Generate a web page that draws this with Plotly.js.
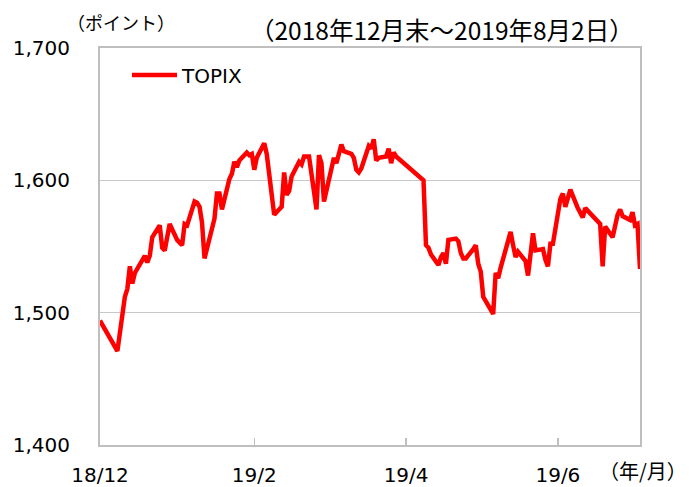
<!DOCTYPE html>
<html>
<head>
<meta charset="utf-8">
<script src="https://cdn.plot.ly/plotly-3.0.1.min.js"></script>
<style>html,body{margin:0;padding:0;background:#fff;}#chart{width:689px;height:487px;}</style>
</head>
<body>
<div id="chart"></div>
<script>
const dates = [
 '2018-12-28',
 '2019-01-04','2019-01-07','2019-01-08','2019-01-09','2019-01-10','2019-01-11',
 '2019-01-15','2019-01-16','2019-01-17','2019-01-18',
 '2019-01-21','2019-01-22','2019-01-23','2019-01-24','2019-01-25',
 '2019-01-28','2019-01-29','2019-01-30','2019-01-31','2019-02-01',
 '2019-02-04','2019-02-05','2019-02-06','2019-02-07','2019-02-08',
 '2019-02-12','2019-02-13','2019-02-14','2019-02-15',
 '2019-02-18','2019-02-19','2019-02-20','2019-02-21','2019-02-22',
 '2019-02-25','2019-02-26','2019-02-27','2019-02-28','2019-03-01',
 '2019-03-04','2019-03-05','2019-03-06','2019-03-07','2019-03-08',
 '2019-03-11','2019-03-12','2019-03-13','2019-03-14','2019-03-15',
 '2019-03-18','2019-03-19','2019-03-20','2019-03-22',
 '2019-03-25','2019-03-26','2019-03-27','2019-03-28','2019-03-29',
 '2019-04-01','2019-04-02','2019-04-03','2019-04-04','2019-04-05',
 '2019-04-08','2019-04-09','2019-04-10','2019-04-11','2019-04-12',
 '2019-04-15','2019-04-16','2019-04-17','2019-04-18','2019-04-19',
 '2019-04-22','2019-04-23','2019-04-24','2019-04-25','2019-04-26',
 '2019-05-07','2019-05-08','2019-05-09','2019-05-10',
 '2019-05-13','2019-05-14','2019-05-15','2019-05-16','2019-05-17',
 '2019-05-20','2019-05-21','2019-05-22','2019-05-23','2019-05-24',
 '2019-05-27','2019-05-28','2019-05-29','2019-05-30','2019-05-31',
 '2019-06-03','2019-06-04','2019-06-05','2019-06-06','2019-06-07',
 '2019-06-10','2019-06-11','2019-06-12','2019-06-13','2019-06-14',
 '2019-06-17','2019-06-18','2019-06-19','2019-06-20','2019-06-21',
 '2019-06-24','2019-06-25','2019-06-26','2019-06-27','2019-06-28',
 '2019-07-01','2019-07-02','2019-07-03','2019-07-04','2019-07-05',
 '2019-07-08','2019-07-09','2019-07-10','2019-07-11','2019-07-12',
 '2019-07-16','2019-07-17','2019-07-18','2019-07-19',
 '2019-07-22','2019-07-23','2019-07-24','2019-07-25','2019-07-26',
 '2019-07-29','2019-07-30','2019-07-31','2019-08-01','2019-08-02'
];
const topix = [
 1494,
 1471,1512,1518,1535,1522,1530,
 1543,1538,1543,1557,
 1566,1549,1547,1557,1567,
 1555,1553,1551,1567,1566,
 1584,1583,1580,1568,1541,
 1571,1590,1590,1578,
 1601,1605,1614,1610,1615,
 1621,1619,1620,1608,1617,
 1628,1620,1605,1590,1574,
 1580,1606,1589,1592,1603,
 1614,1612,1618,1618,
 1578,1619,1613,1584,1592,
 1617,1613,1622,1627,1622,
 1620,1617,1608,1606,1609,
 1626,1624,1631,1615,1617,
 1618,1624,1613,1621,1618,
 1600,1551,1549,1544,
 1536,1542,1545,1537,1555,
 1556,1554,1545,1541,1541,
 1548,1551,1537,1531,1512,
 1502,1499,1530,1526,1534,
 1555,1561,1551,1542,1546,
 1539,1528,1546,1560,1547,
 1548,1540,1535,1552,1552,
 1586,1590,1580,1588,1593,
 1579,1576,1572,1579,1577,
 1569,1567,1535,1565,
 1557,1567,1574,1578,1573,
 1570,1576,1566,1567,1533
];
const xTickVals = ['2018-12-28','2019-02-28','2019-04-30','2019-06-30'];
const xTickText = ['18/12','19/2','19/4','19/6'];
const yTickVals = [1400,1500,1600,1700];
const yTickText = ['1,400','1,500','1,600','1,700'];
const seriesName = 'TOPIX';
const unitY = '（ポイント）';
const unitX = '（年/月）';
const periodText = '（2018年12月末～2019年8月2日）';

const FONT = 'Verdana, "DejaVu Sans", "Noto Sans CJK JP", sans-serif';
const JFONT = '"Noto Sans CJK JP", "DejaVu Sans", sans-serif';

const trace = {
  x: dates, y: topix, type: 'scatter', mode: 'lines', name: seriesName,
  line: {color: '#ff0000', width: 4.5}
};

const layout = {
  width: 689, height: 487,
  margin: {l: 100, r: 49, t: 48, b: 42},
  paper_bgcolor: '#fff', plot_bgcolor: '#fff',
  font: {family: FONT, size: 20, color: '#000'},
  showlegend: true,
  legend: {x: 0.05, y: 0.932, xanchor: 'left', yanchor: 'middle', itemwidth: 45,
    bgcolor: 'rgba(0,0,0,0)', font: {family: FONT, size: 20}},
  xaxis: {
    type: 'date', range: ['2018-12-28', '2019-08-02'],
    tickvals: xTickVals, ticktext: xTickText,
    ticks: 'inside', ticklen: 7, tickcolor: '#bfbfbf', tickwidth: 1.5,
    showgrid: false, zeroline: false,
    showline: true, mirror: true, linecolor: '#bfbfbf', linewidth: 2,
    ticklabelstandoff: 11,
    tickfont: {family: FONT, size: 20}
  },
  yaxis: {
    range: [1400, 1700],
    tickvals: yTickVals, ticktext: yTickText,
    ticks: '', showgrid: true, gridcolor: '#c8c8c8', gridwidth: 1.5,
    zeroline: false, showline: true, mirror: true, linecolor: '#bfbfbf', linewidth: 2,
    ticklabelstandoff: 24,
    tickfont: {family: FONT, size: 20}
  },
  annotations: [
    {text: unitY, xref: 'paper', yref: 'paper', x: -0.065, y: 1.066, xanchor: 'left', yanchor: 'middle',
     showarrow: false, font: {family: JFONT, size: 18}},
    {text: periodText, xref: 'paper', yref: 'paper', x: 0.274, y: 1.047, xanchor: 'left', yanchor: 'middle',
     showarrow: false, font: {family: JFONT, size: 24.5}},
    {text: unitX, xref: 'paper', yref: 'paper', x: 1.09, y: -0.063, xanchor: 'right', yanchor: 'middle',
     showarrow: false, font: {family: JFONT, size: 20}}
  ]
};

Plotly.newPlot('chart', [trace], layout, {displayModeBar: false, staticPlot: true});
</script>
</body>
</html>
